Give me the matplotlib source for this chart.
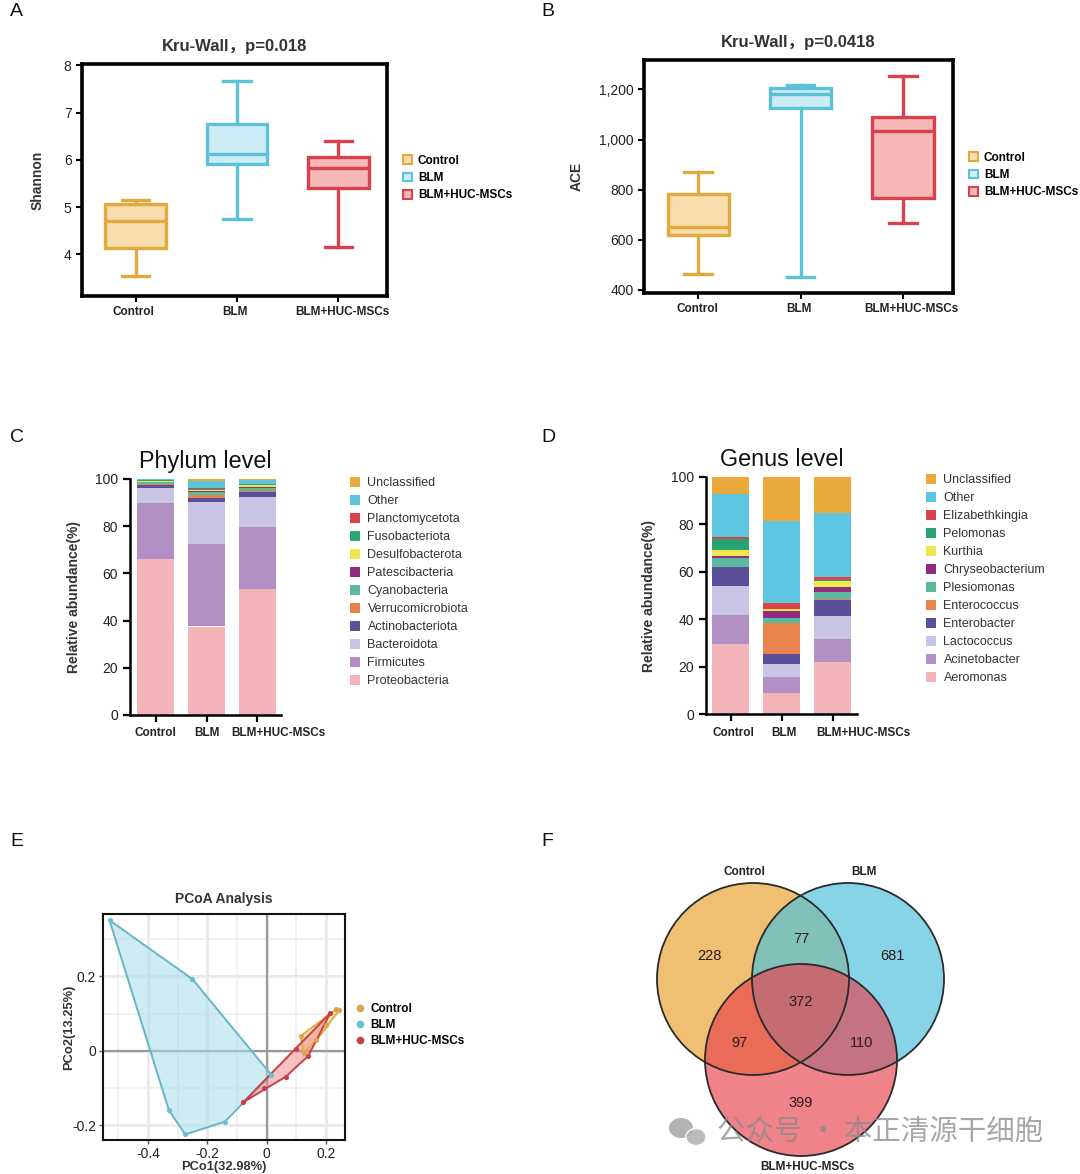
import numpy as np
import matplotlib
matplotlib.use('Agg')
import matplotlib.pyplot as plt
import matplotlib.transforms as mtransforms
from matplotlib.patches import Patch, Circle, Ellipse
from matplotlib.lines import Line2D
from matplotlib.ticker import FuncFormatter, MultipleLocator

plt.rcParams['font.family'] = ['Liberation Sans', 'Noto Sans CJK SC', 'DejaVu Sans']

# ---------------- data ----------------
groups = ['Control', 'BLM', 'BLM+HUC-MSCs']

shannon_whislo = [3.54, 4.74, 4.15]
shannon_q1 = [4.14, 5.92, 5.40]
shannon_med = [4.71, 6.13, 5.82]
shannon_q3 = [5.07, 6.75, 6.07]
shannon_whishi = [5.16, 7.66, 6.39]

ace_whislo = [462, 452, 668]
ace_q1 = [618, 1125, 768]
ace_med = [650, 1183, 1033]
ace_q3 = [781, 1205, 1088]
ace_whishi = [871, 1217, 1253]

phylum_names = ['Proteobacteria', 'Firmicutes', 'Bacteroidota', 'Actinobacteriota',
                'Verrucomicrobiota', 'Cyanobacteria', 'Patescibacteria', 'Desulfobacterota',
                'Fusobacteriota', 'Planctomycetota', 'Other', 'Unclassified']
proteobacteria = [66.2, 37.5, 53.3]
firmicutes = [23.6, 35.1, 26.5]
bacteroidota = [6.4, 17.5, 12.6]
actinobacteriota = [1.4, 1.8, 2.1]
verrucomicrobiota = [0.3, 1.4, 0.5]
cyanobacteria = [0.9, 1.0, 1.2]
patescibacteria = [0.1, 0.6, 0.4]
desulfobacterota = [0.1, 0.3, 0.8]
fusobacteriota = [0.4, 0.6, 0.4]
planctomycetota = [0.1, 0.4, 0.2]
phylum_other = [0.4, 3.0, 1.5]
phylum_unclassified = [0.1, 0.8, 0.5]
phylum_values = [proteobacteria, firmicutes, bacteroidota, actinobacteriota,
                 verrucomicrobiota, cyanobacteria, patescibacteria, desulfobacterota,
                 fusobacteriota, planctomycetota, phylum_other, phylum_unclassified]
phylum_colors = ['#F3B5B9', '#B28FC3', '#C9C4E3', '#5B4F97', '#E8834B', '#5BB99E',
                 '#922C80', '#EDE64E', '#27A673', '#D8434C', '#5CC5DD', '#E8A93A']

genus_names = ['Aeromonas', 'Acinetobacter', 'Lactococcus', 'Enterobacter', 'Enterococcus',
               'Plesiomonas', 'Chryseobacterium', 'Kurthia', 'Pelomonas', 'Elizabethkingia',
               'Other', 'Unclassified']
aeromonas = [29.7, 9.0, 21.9]
acinetobacter = [11.9, 6.6, 9.9]
lactococcus = [12.3, 5.4, 9.4]
enterobacter = [8.0, 4.5, 7.0]
enterococcus = [0.1, 12.9, 0.2]
plesiomonas = [3.7, 1.9, 3.0]
chryseobacterium = [0.8, 3.2, 2.2]
kurthia = [2.9, 0.6, 2.5]
pelomonas = [4.6, 0.3, 0.3]
elizabethkingia = [0.7, 2.5, 1.2]
genus_other = [18.0, 34.4, 27.2]
genus_unclassified = [7.3, 18.7, 15.2]
genus_values = [aeromonas, acinetobacter, lactococcus, enterobacter, enterococcus,
                plesiomonas, chryseobacterium, kurthia, pelomonas, elizabethkingia,
                genus_other, genus_unclassified]
genus_colors = ['#F3B5B9', '#B28FC3', '#C9C4E3', '#5B4F9B', '#E8834B', '#5BB9A0',
                '#922C80', '#EDE64E', '#26A572', '#D8434C', '#5CC5DF', '#E8A93A']

pcoa_control = [(0.235, 0.112), (0.245, 0.110), (0.115, 0.040), (0.168, 0.028),
                (0.125, -0.005), (0.200, 0.070)]
pcoa_blm = [(-0.529, 0.351), (-0.250, 0.193), (0.015, -0.064), (-0.141, -0.191),
            (-0.274, -0.225), (-0.329, -0.160)]
pcoa_huc = [(0.215, 0.102), (0.100, 0.006), (0.140, -0.014), (0.064, -0.070),
            (-0.009, -0.099), (-0.078, -0.138)]
pcoa_xlabel = 'PCo1(32.98%)'
pcoa_ylabel = 'PCo2(13.25%)'

venn_only_control = 228
venn_only_blm = 681
venn_only_huc = 399
venn_control_blm = 77
venn_control_huc = 97
venn_blm_huc = 110
venn_all = 372

# ---------------- styles ----------------
box_edge = ['#E2A93F', '#5DC1D8', '#D8414D']
box_fill = ['#F8DCAB', '#CDEDF6', '#F6B8B6']
pcoa_edge = ['#E0AE45', '#66B6C8', '#C8404A']
pcoa_fill = ['#F6CF7E', '#A8DCEC', '#EE8E90']
pcoa_pt = ['#D9A84A', '#6BBFD0', '#C8404A']
venn_cols = ['#E9A83A', '#4FC0DE', '#E8404C']
TXT = '#222222'
XT = 8.5

W, H = 1080, 1174
fig = plt.figure(figsize=(W / 100, H / 100), dpi=100)


def ax_px(l, t, r, b):
    return fig.add_axes([l / W, 1 - b / H, (r - l) / W, (b - t) / H])


def fig_xy(x, y):
    return (x / W, 1 - y / H)


def shift_labels(ax, offsets, left_third=False):
    for i, lbl in enumerate(ax.get_xticklabels()):
        if left_third and i == 2:
            lbl.set_ha('left')
        lbl.set_transform(lbl.get_transform() +
                          mtransforms.ScaledTranslation(offsets[i] / 100, 0, fig.dpi_scale_trans))


for lab, x, y in [('A', 10, 12), ('B', 541, 12), ('C', 10, 437), ('D', 541, 437),
                  ('E', 10, 842), ('F', 541, 842)]:
    fig.text(*fig_xy(x, y), lab, fontsize=14, va='center', ha='left', color='#111')


# ---------------- box plots ----------------
def boxpanel(ax, lo, q1, med, q3, hi, ylabel, title, ylabelpad):
    for i in range(3):
        st = [dict(whislo=lo[i], q1=q1[i], med=med[i], q3=q3[i], whishi=hi[i], fliers=[])]
        ax.bxp(st, positions=[i], widths=0.6, capwidths=0.27, patch_artist=True,
               showfliers=False,
               boxprops=dict(facecolor=box_fill[i], edgecolor=box_edge[i], linewidth=2.4),
               whiskerprops=dict(color=box_edge[i], linewidth=2.4),
               capprops=dict(color=box_edge[i], linewidth=2.4),
               medianprops=dict(color=box_edge[i], linewidth=2.4))
    ax.set_xlim(-0.53, 2.48)
    ax.set_xticks(range(3))
    ax.set_xticklabels(groups, fontweight='bold', fontsize=XT, color=TXT)
    for s in ax.spines.values():
        s.set_linewidth(2.6)
        s.set_color('#000')
    ax.tick_params(axis='both', direction='out', length=4, width=1.5, labelsize=10,
                   colors='#000', labelcolor=TXT)
    ax.tick_params(axis='x', pad=3, labelsize=XT)
    ax.set_ylabel(ylabel, fontweight='bold', fontsize=10, color='#333', labelpad=ylabelpad)
    ax.set_title(title, fontweight='bold', fontsize=12, color='#333', pad=9)
    handles = [Patch(facecolor=box_fill[i], edgecolor=box_edge[i], linewidth=1.5,
                     label=groups[i]) for i in range(3)]
    return handles


axA = ax_px(82, 64, 387, 296)
hA = boxpanel(axA, shannon_whislo, shannon_q1, shannon_med, shannon_q3, shannon_whishi,
              'Shannon', 'Kru-Wall，p=0.018', 14)
axA.set_ylim(3.12, 8.03)
axA.set_yticks([4, 5, 6, 7, 8])
shift_labels(axA, [-2, -2, 4.5])
fig.legend(handles=hA, loc='center left', bbox_to_anchor=fig_xy(403, 178),
           frameon=False, handlelength=0.75, handleheight=0.75, handletextpad=0.5,
           labelspacing=0.45, borderpad=0, borderaxespad=0,
           prop=dict(weight='bold', size=8.5))

axB = ax_px(644, 60, 953, 293)
hB = boxpanel(axB, ace_whislo, ace_q1, ace_med, ace_q3, ace_whishi,
              'ACE', 'Kru-Wall，p=0.0418', 11)
axB.set_xlim(-0.53, 2.49)
axB.set_ylim(388, 1317)
axB.set_yticks([400, 600, 800, 1000, 1200])
axB.yaxis.set_major_formatter(FuncFormatter(lambda v, p: f'{int(v):,}'))
shift_labels(axB, [-1, -2, 9])
fig.legend(handles=hB, loc='center left', bbox_to_anchor=fig_xy(969, 175),
           frameon=False, handlelength=0.75, handleheight=0.75, handletextpad=0.5,
           labelspacing=0.45, borderpad=0, borderaxespad=0,
           prop=dict(weight='bold', size=8.5))


# ---------------- stacked bars ----------------
def stackpanel(ax, names, values, colors, title, leg_x, leg_y, xlim, offsets, ylabelpad):
    x = np.arange(3)
    bottom = np.zeros(3)
    handles = []
    for name, vals, c in zip(names, values, colors):
        vals = np.array(vals, dtype=float)
        ax.bar(x, vals, bottom=bottom, width=0.73, color=c, linewidth=0, label=name)
        bottom += vals
        handles.append(Patch(facecolor=c, label=name))
    ax.set_xlim(*xlim)
    ax.set_ylim(0, 100)
    ax.set_yticks(range(0, 101, 20))
    ax.set_xticks(x)
    ax.set_xticklabels(groups, fontweight='bold', fontsize=XT, color=TXT)
    for s in ['top', 'right']:
        ax.spines[s].set_visible(False)
    for s in ['left', 'bottom']:
        ax.spines[s].set_linewidth(1.8)
    ax.tick_params(axis='both', direction='out', length=5, width=1.6, labelsize=10,
                   labelcolor=TXT)
    ax.tick_params(axis='x', pad=4, labelsize=XT)
    shift_labels(ax, offsets, left_third=True)
    ax.set_ylabel('Relative abundance(%)', fontweight='bold', fontsize=10, color='#333',
                  labelpad=ylabelpad)
    ax.set_title(title, fontsize=16.8, color='#111', pad=8)
    fig.legend(handles=handles[::-1], loc='upper left', bbox_to_anchor=fig_xy(leg_x, leg_y),
               frameon=False, handlelength=0.8, handleheight=0.8, handletextpad=0.6,
               labelspacing=0.47, borderpad=0, borderaxespad=0,
               prop=dict(size=9.0), labelcolor='#333')


axC = ax_px(130, 479, 281, 715)
stackpanel(axC, phylum_names, phylum_values, phylum_colors, 'Phylum level', 350, 477,
           (-0.51, 2.47), [0, 0, -25.5], 10.3)

axD = ax_px(706, 477, 857, 714)
stackpanel(axD, genus_names, genus_values, genus_colors, 'Genus level', 926, 474,
           (-0.49, 2.48), [2.5, 2, -16.5], 10.5)


# ---------------- PCoA ----------------
def convex_hull(points):
    pts = sorted(map(tuple, points))

    def cross(o, a, b):
        return (a[0] - o[0]) * (b[1] - o[1]) - (a[1] - o[1]) * (b[0] - o[0])

    lower = []
    for p in pts:
        while len(lower) >= 2 and cross(lower[-2], lower[-1], p) <= 0:
            lower.pop()
        lower.append(p)
    upper = []
    for p in reversed(pts):
        while len(upper) >= 2 and cross(upper[-2], upper[-1], p) <= 0:
            upper.pop()
        upper.append(p)
    return np.array(lower[:-1] + upper[:-1])


axE = ax_px(103, 914, 345, 1140)
axE.set_xlim(-0.551, 0.264)
axE.set_ylim(-0.240, 0.368)
axE.set_xticks([-0.4, -0.2, 0, 0.2])
axE.set_yticks([-0.2, 0, 0.2])
axE.set_xticklabels(['-0.4', '-0.2', '0', '0.2'])
axE.set_yticklabels(['-0.2', '0', '0.2'])
axE.xaxis.set_minor_locator(MultipleLocator(0.1))
axE.yaxis.set_minor_locator(MultipleLocator(0.1))
axE.grid(which='major', color='#EBEBEB', linewidth=2.2)
axE.grid(which='minor', color='#EFEFEF', linewidth=1.2)
axE.set_axisbelow(True)
axE.axhline(0, color='#9A9A9A', linewidth=1.6, zorder=1)
axE.axvline(0, color='#9A9A9A', linewidth=1.6, zorder=1)
for s in axE.spines.values():
    s.set_linewidth(1.5)
    s.set_color('#111')
axE.tick_params(which='minor', length=0)
axE.tick_params(which='major', direction='out', length=3, width=1, color='#555',
                labelsize=10, labelcolor=TXT, pad=2)
order = [(pcoa_blm, 1), (pcoa_control, 0), (pcoa_huc, 2)]
for pts, gi in order:
    hl = convex_hull(pts)
    axE.fill(hl[:, 0], hl[:, 1], facecolor=pcoa_fill[gi], alpha=0.55,
             edgecolor='none', zorder=2)
    closed = np.vstack([hl, hl[:1]])
    axE.plot(closed[:, 0], closed[:, 1], color=pcoa_edge[gi], linewidth=1.4, zorder=3)
    arr = np.array(pts)
    axE.scatter(arr[:, 0], arr[:, 1], s=14, color=pcoa_pt[gi], zorder=4, linewidths=0)
axE.set_title('PCoA Analysis', fontweight='bold', fontsize=10, color='#333', pad=8)
axE.set_xlabel(pcoa_xlabel, fontweight='bold', fontsize=9.3, color='#333', labelpad=0)
axE.set_ylabel(pcoa_ylabel, fontweight='bold', fontsize=9.3, color='#333', labelpad=-2)
hE = [Line2D([], [], marker='o', linestyle='none', markersize=4.5, color=pcoa_pt[i],
             label=groups[i]) for i in range(3)]
fig.legend(handles=hE, loc='center left', bbox_to_anchor=fig_xy(355, 1025),
           frameon=False, handlelength=0.8, handletextpad=0.5, labelspacing=0.35,
           borderpad=0, borderaxespad=0, prop=dict(weight='bold', size=8.5))

# ---------------- Venn ----------------
axF = ax_px(600, 850, 1080, 1174)
axF.set_xlim(600, 1080)
axF.set_ylim(1174, 850)
axF.axis('off')
R = 96
centers = [(753, 979), (848, 979), (801, 1060)]
alphas = [0.72, 0.68, 0.65]
for (cx, cy), c, a in zip(centers, venn_cols, alphas):
    axF.add_patch(Circle((cx, cy), R, facecolor=c, alpha=a, edgecolor='none'))
for (cx, cy) in centers:
    axF.add_patch(Circle((cx, cy), R, facecolor='none', edgecolor='#2A2A2A', linewidth=1.3))
venn_texts = [(venn_only_control, 709, 956), (venn_control_blm, 801, 939),
              (venn_only_blm, 892, 956), (venn_all, 801, 1002),
              (venn_control_huc, 739, 1043), (venn_blm_huc, 862, 1043),
              (venn_only_huc, 801, 1103)]
for val, x, y in venn_texts:
    axF.text(x, y, str(val), ha='center', va='center', fontsize=10.5, color='#2a1a1a')
axF.text(744, 872, 'Control', ha='center', va='center', fontsize=8.5, fontweight='bold', color=TXT)
axF.text(864, 872, 'BLM', ha='center', va='center', fontsize=8.5, fontweight='bold', color=TXT)
axF.text(807, 1167, 'BLM+HUC-MSCs', ha='center', va='center', fontsize=8.5,
         fontweight='bold', color=TXT)

# watermark
axF.add_patch(Ellipse((681, 1128), 24, 20, facecolor='#9a9a9a', alpha=0.75, edgecolor='none'))
axF.add_patch(Ellipse((696, 1137), 20, 17, facecolor='#b0b0b0', alpha=0.85,
                      edgecolor='white', linewidth=1.2))
axF.text(717, 1132, '公众号 · 本正清源干细胞', ha='left', va='center', fontsize=20.5,
         color='#8a8a8a', alpha=0.75, family=['Noto Sans CJK SC', 'DejaVu Sans'])

fig.savefig('out.png', dpi=100)
